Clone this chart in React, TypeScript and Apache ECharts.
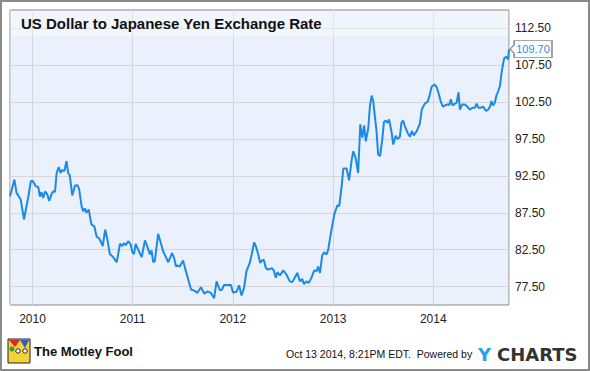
import React, { useEffect, useRef } from 'react';
import * as echarts from 'echarts';

const dates: string[] = [
  '2009-10-11','2009-10-27','2009-11-04','2009-11-19','2009-12-01','2009-12-17','2009-12-26',
  '2010-01-02','2010-01-13','2010-01-22','2010-01-28','2010-02-03','2010-02-09','2010-02-16','2010-02-24',
  '2010-03-03','2010-03-12','2010-03-18','2010-03-24','2010-03-30','2010-04-07','2010-04-13','2010-04-19','2010-04-27',
  '2010-05-05','2010-05-11','2010-05-17','2010-05-26','2010-06-05','2010-06-14','2010-06-20','2010-06-29',
  '2010-07-05','2010-07-11','2010-07-17','2010-07-25','2010-07-29','2010-08-04','2010-08-14','2010-08-23',
  '2010-09-01','2010-09-14','2010-09-23','2010-10-01','2010-10-10','2010-10-22','2010-11-04','2010-11-16','2010-11-24',
  '2010-12-01','2010-12-07','2010-12-16','2010-12-25','2010-12-31',
  '2011-01-06','2011-01-12','2011-01-21','2011-02-03','2011-02-15','2011-02-23','2011-03-05','2011-03-11','2011-03-17','2011-03-23',
  '2011-04-04','2011-04-13','2011-04-22','2011-05-01','2011-05-11','2011-05-25','2011-06-01','2011-06-08','2011-06-16','2011-06-22','2011-06-29',
  '2011-07-04','2011-07-11','2011-07-21','2011-08-02','2011-08-14','2011-08-25','2011-09-07','2011-09-19','2011-10-01','2011-10-13','2011-10-25',
  '2011-11-03','2011-11-15','2011-11-23','2011-11-30','2011-12-10','2011-12-25',
  '2012-01-02','2012-01-15','2012-01-24','2012-02-02','2012-02-11','2012-02-20','2012-03-03','2012-03-10','2012-03-19','2012-03-25',
  '2012-04-03','2012-04-10','2012-04-17','2012-04-23','2012-05-01','2012-05-09','2012-05-22','2012-05-30','2012-06-06','2012-06-12','2012-06-21',
  '2012-07-03','2012-07-15','2012-07-27','2012-08-05','2012-08-14','2012-08-23','2012-09-02','2012-09-10','2012-09-16','2012-09-26',
  '2012-10-04','2012-10-14','2012-10-24','2012-11-02','2012-11-07','2012-11-14','2012-11-22','2012-11-29','2012-12-08','2012-12-14','2012-12-24',
  '2013-01-05','2013-01-16','2013-01-23','2013-02-01','2013-02-07','2013-02-19','2013-02-28','2013-03-09','2013-03-15','2013-03-24',
  '2013-04-02','2013-04-10','2013-04-17','2013-04-24','2013-04-30','2013-05-09','2013-05-15','2013-05-21','2013-05-27',
  '2013-06-02','2013-06-08','2013-06-14','2013-06-21','2013-06-29','2013-07-05','2013-07-12','2013-07-18','2013-07-24',
  '2013-08-02','2013-08-08','2013-08-17','2013-08-24','2013-09-01','2013-09-07','2013-09-13','2013-09-19','2013-09-30',
  '2013-10-08','2013-10-15','2013-10-22','2013-11-02','2013-11-13','2013-11-20','2013-12-01','2013-12-12','2013-12-19','2013-12-26',
  '2014-01-05','2014-01-14','2014-01-21','2014-01-29','2014-02-05','2014-02-12','2014-02-21','2014-02-28','2014-03-06','2014-03-12',
  '2014-03-21','2014-03-27','2014-04-03','2014-04-08','2014-04-16','2014-04-26','2014-05-05','2014-05-14','2014-05-24',
  '2014-06-02','2014-06-08','2014-06-14','2014-06-22','2014-07-02','2014-07-12','2014-07-20','2014-07-27',
  '2014-08-01','2014-08-07','2014-08-13','2014-08-20','2014-08-26','2014-09-01','2014-09-07','2014-09-13','2014-09-17',
  '2014-09-25','2014-10-01','2014-10-04'
];

const rates: number[] = [
  89.75, 92.0, 90.2, 89.3, 86.6, 89.75, 91.8,
  91.8, 91.1, 91.0, 89.7, 90.3, 89.5, 90.4, 90.0,
  89.1, 90.1, 90.4, 90.35, 92.9, 93.7, 92.9, 93.3, 93.15,
  94.5, 92.9, 92.55, 89.85, 91.2, 91.25, 90.7, 88.4,
  87.7, 88.1, 87.5, 87.95, 87.1, 85.9, 85.7, 84.25,
  84.05, 83.0, 85.2, 83.9, 81.9, 81.5, 80.8, 83.3, 83.0,
  83.4, 83.1, 83.65, 83.2, 82.15,
  81.9, 83.3, 82.5, 81.5, 83.75, 83.0, 81.85, 82.4, 80.8, 80.95,
  84.65, 83.5, 82.3, 81.6, 80.8, 82.05, 81.4, 80.25, 80.35, 80.2, 80.7,
  81.05, 80.0, 78.7, 77.1, 76.95, 76.65, 77.4, 76.55, 76.85, 76.65, 75.9,
  78.2, 77.0, 77.1, 77.7, 77.7, 77.7,
  76.7, 76.8, 77.65, 76.3, 77.3, 79.6, 80.7, 81.85, 83.5, 83.0,
  81.85, 80.7, 81.05, 81.15, 80.0, 79.8, 80.0, 79.65, 78.7, 79.45, 79.0,
  79.7, 79.1, 78.2, 78.1, 78.7, 79.35, 78.2, 78.55, 77.85, 78.2,
  78.0, 78.7, 79.7, 79.6, 80.2, 79.35, 81.7, 82.15, 81.85, 82.5, 84.8,
  87.25, 88.5, 88.4, 91.1, 93.5, 93.5, 91.9, 94.5, 95.85, 94.95,
  92.9, 99.5, 97.7, 99.35, 97.2, 99.0, 101.95, 103.4, 102.65,
  100.6, 98.6, 95.4, 95.2, 97.45, 99.8, 100.0, 99.7, 100.15,
  98.4, 96.75, 97.95, 97.5, 97.8, 99.7, 100.0, 99.3, 98.3,
  97.8, 98.6, 98.0, 98.6, 99.6, 101.5, 102.3, 102.6, 103.5, 104.6,
  104.9, 104.5, 103.6, 102.5, 101.9, 102.05, 102.2, 102.1, 102.9, 102.05,
  102.3, 102.4, 103.85, 101.5, 102.2, 102.2, 101.9, 101.5, 101.75,
  101.75, 102.3, 101.75, 101.75, 101.9, 101.3, 101.5, 101.9,
  102.65, 102.05, 102.4, 103.5, 104.0, 104.7, 106.5, 107.85, 108.5,
  108.65, 108.3, 109.7
];

const yTickLabels: number[] = [77.5, 82.5, 87.5, 92.5, 97.5, 102.5, 107.5, 112.5];
const xStart = '2009-10-11';
const xEnd = '2014-10-04';
const titleText = 'US Dollar to Japanese Yen Exchange Rate';
const footerText = 'Oct 13 2014, 8:21PM EDT.  Powered by';

const FONT = "'Liberation Sans', Arial, sans-serif";

export default function App() {
  const ref = useRef<HTMLDivElement>(null);
  useEffect(() => {
    document.body.style.margin = '0';
    const chart = echarts.init(ref.current as HTMLDivElement, null, { renderer: 'svg' });
    const data = dates.map((d, i) => [d, rates[i]]);
    const last = data[data.length - 1];
    chart.setOption({
      animation: false,
      backgroundColor: '#ffffff',
      title: {
        text: titleText,
        left: 21,
        top: 16,
        padding: 0,
        textStyle: { fontFamily: FONT, fontWeight: 'bold', fontSize: 15, color: '#111' }
      },
      grid: {
        left: 10, top: 10, right: 81, bottom: 66,
        show: true, backgroundColor: '#EAF1FC', borderColor: '#8a8a8a', borderWidth: 1
      },
      xAxis: {
        type: 'time',
        min: xStart,
        max: xEnd,
        minInterval: 365 * 86400000,
        maxInterval: 366 * 86400000,
        axisLine: { show: false },
        axisTick: { show: false },
        splitLine: { show: true, lineStyle: { color: '#d6d6d6', width: 1 } },
        axisLabel: {
          formatter: (v: number) => {
            const d = new Date(v);
            return d.getMonth() === 0 && d.getDate() === 1 ? String(d.getFullYear()) : '';
          },
          color: '#222', fontSize: 12, fontFamily: FONT, margin: 8, hideOverlap: false
        }
      },
      yAxis: {
        type: 'value',
        position: 'right',
        min: 75,
        max: 115,
        interval: 2.5,
        axisLine: { show: false },
        axisTick: { show: false },
        axisLabel: {
          formatter: (v: number) => (yTickLabels.some((t) => Math.abs(t - v) < 1e-6) ? v.toFixed(2) : ''),
          margin: 6, color: '#222', fontSize: 12, fontFamily: FONT
        },
        splitLine: { show: true, lineStyle: { color: ['rgba(0,0,0,0)', '#d6d6d6'], width: 1 } }
      },
      series: [
        {
          type: 'line',
          data,
          symbol: 'none',
          showSymbol: false,
          lineStyle: { color: '#1a8ae6', width: 2 },
          markPoint: {
            silent: true,
            symbol: 'path://M0,8 L4,4 L4,0 L41,0 L41,16 L4,16 L4,12 Z',
            symbolSize: [42, 17],
            symbolOffset: [22, 0],
            itemStyle: { color: '#ffffff', borderColor: '#8a8a8a', borderWidth: 1 },
            label: {
              show: true, position: 'inside', offset: [2, 0],
              formatter: (p: any) => Number(p.value).toFixed(2),
              color: '#2a8de6', fontSize: 11, fontFamily: FONT
            },
            data: [{ coord: last, value: last[1] }]
          }
        }
      ],
      graphic: [
        { type: 'rect', z: 1, silent: true, shape: { x: 11, y: 11, width: 497, height: 25 }, style: { fill: 'rgba(255,255,255,0.35)' } },
        { type: 'rect', z: 100, silent: true, shape: { x: 1, y: 1, width: 588, height: 369 }, style: { fill: 'none', stroke: '#8a8a8a', lineWidth: 2 } },
        { type: 'rect', silent: true, shape: { x: 8, y: 339, width: 22, height: 24 }, style: { fill: '#f2d13a', stroke: '#222', lineWidth: 1 } },
        { type: 'polygon', silent: true, shape: { points: [[9, 340], [20, 340], [15, 347]] }, style: { fill: '#d9262c' } },
        { type: 'polygon', silent: true, shape: { points: [[20, 340], [29, 340], [25, 348]] }, style: { fill: '#2a62c9' } },
        { type: 'circle', silent: true, shape: { cx: 12, cy: 349, r: 2.5 }, style: { fill: '#3a9a3a' } },
        { type: 'circle', silent: true, shape: { cx: 18, cy: 351, r: 2.2 }, style: { fill: '#fff', stroke: '#222', lineWidth: 1 } },
        { type: 'circle', silent: true, shape: { cx: 25, cy: 351, r: 2.2 }, style: { fill: '#fff', stroke: '#222', lineWidth: 1 } },
        { type: 'text', silent: true, x: 34, y: 351, style: { text: 'The Motley Fool', fill: '#111', fontSize: 13, fontWeight: 'bold', fontFamily: "'Liberation Sans Narrow', 'Liberation Sans', sans-serif", verticalAlign: 'middle' } },
        { type: 'text', silent: true, x: 286, y: 354, style: { text: footerText, fill: '#111', fontSize: 10.5, fontFamily: FONT, verticalAlign: 'middle' } },
        { type: 'text', silent: true, x: 478, y: 354, style: { text: 'Y', fill: '#29a0e6', fontSize: 18, fontWeight: 'bold', fontFamily: "'DejaVu Sans', sans-serif", verticalAlign: 'middle' } },
        { type: 'text', silent: true, x: 497, y: 354, style: { text: 'CHARTS', fill: '#333', fontSize: 18, fontWeight: 'bold', fontFamily: "'DejaVu Sans', sans-serif", verticalAlign: 'middle' } }
      ]
    });
    return () => chart.dispose();
  }, []);
  return <div ref={ref} style={{ width: 590, height: 371 }} />;
}
